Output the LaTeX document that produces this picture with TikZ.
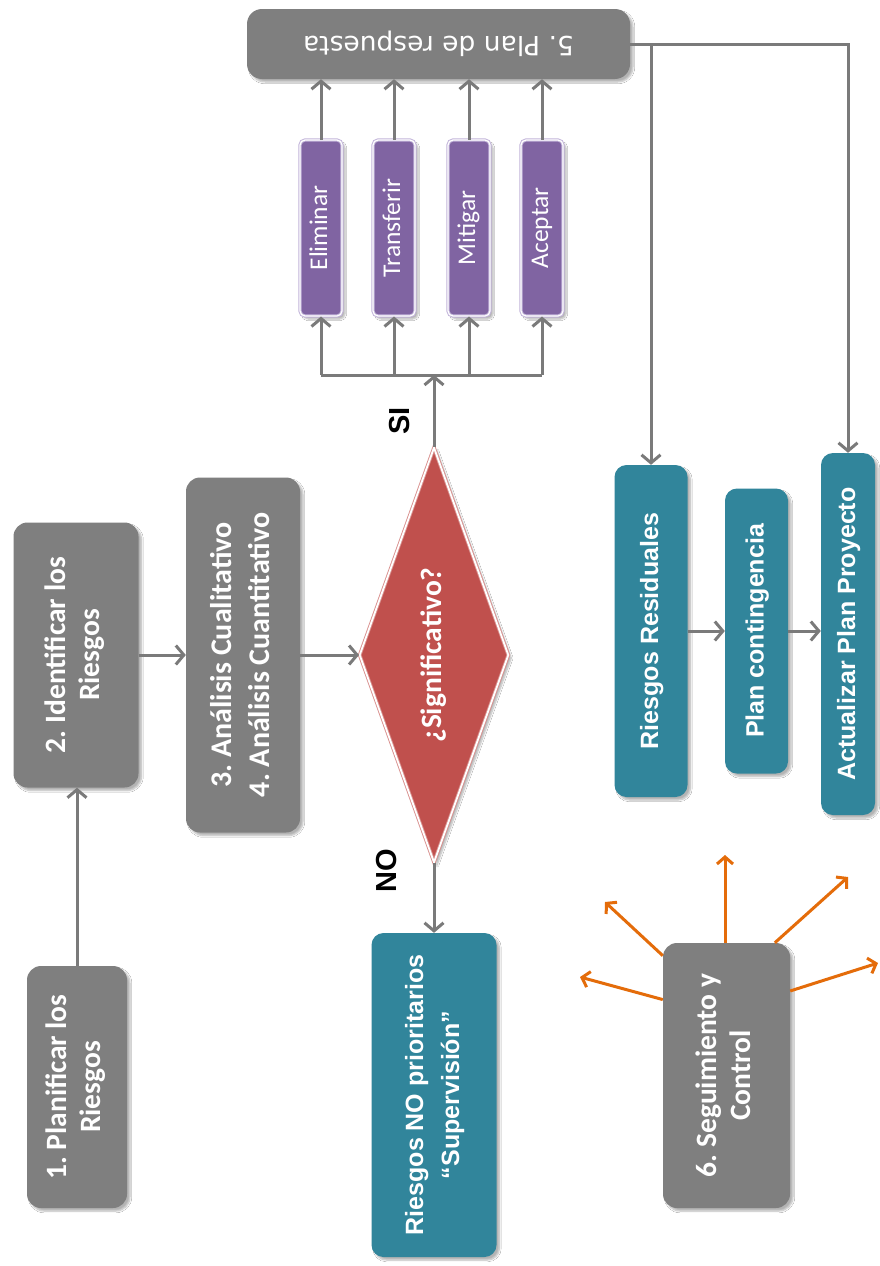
\documentclass[tikz,border=0pt]{standalone}
\usepackage{fontspec}
\usepackage{graphicx}
\usetikzlibrary{shapes.geometric,arrows.meta,shadows.blur,calc}
\newfontfamily\calfont{Carlito}
\newfontfamily\arialfont{Liberation Sans}
\newfontfamily\djfont{DejaVu Sans}
\frenchspacing
\definecolor{cgray}{HTML}{7F7F7F}
\definecolor{cline}{HTML}{7A7A7A}
\definecolor{cteal}{HTML}{31859B}
\definecolor{cpurple}{HTML}{8064A2}
\definecolor{clav}{HTML}{C3B5DA}
\definecolor{cred}{HTML}{C0504D}
\definecolor{cpink}{HTML}{D9908E}
\definecolor{corange}{HTML}{E46C0A}
\newcommand\grayfont{\calfont\bfseries\fontsize{29.5pt}{34pt}\selectfont}
\newcommand\grayfontb{\calfont\bfseries\fontsize{30pt}{38pt}\selectfont}
\newcommand\tealfont{\arialfont\bfseries\fontsize{25pt}{36pt}\selectfont}
\newcommand\purpfont{\calfont\fontsize{25.5pt}{30pt}\selectfont}
\newcommand\planfont{\djfont\fontsize{26.5pt}{32pt}\selectfont}
\newcommand\lblfont{\arialfont\bfseries\fontsize{29pt}{34pt}\selectfont}
\newcommand\rottext[1]{\rotatebox{90}{\begin{tabular}{@{}c@{}}#1\end{tabular}}}
\tikzset{
  softshadow/.style={blur shadow={shadow xshift=3pt, shadow yshift=-3pt, shadow blur steps=6, shadow opacity=30}},
  graybox/.style={rectangle, rounded corners=14pt, fill=cgray, text=white, inner sep=0pt, font=\grayfont, softshadow},
  tealbox/.style={rectangle, rounded corners=12pt, fill=cteal, text=white, inner sep=0pt, font=\tealfont, softshadow},
  purpbox/.style={rectangle, rounded corners=5pt, fill=cpurple, draw=clav, double=white, double distance=1.2pt, line width=1pt, text=white, inner sep=0pt, font=\purpfont, minimum width=42pt, minimum height=176pt, softshadow},
  decision/.style={diamond, aspect=0.36, inner sep=0pt, minimum width=149pt, minimum height=415pt, fill=cred, draw=cpink, double=white, double distance=1.8pt, line width=0.9pt, text=white, font=\grayfont, softshadow},
  lbl/.style={inner sep=0pt, text=black, font=\lblfont},
  arr/.style={draw=cline, line width=3pt, -{Straight Barb[length=8pt,width=19pt]}},
  plainline/.style={draw=cline, line width=3pt},
  oarr/.style={draw=corange, line width=3pt, -{Straight Barb[length=7pt,width=16pt]}}
}
\begin{document}
\begin{tikzpicture}[x=1pt, y=-1pt]
\useasboundingbox (0,0) rectangle (880,1266);
\fill[white] (0,0) rectangle (880,1266);

% left chain
\node[graybox, minimum width=100pt, minimum height=242pt] (p1) at (77,1087) {\rottext{1. Planificar los\\Riesgos}};
\node[graybox, minimum width=125pt, minimum height=265pt] (p2) at (76,655) {\rottext{2. Identificar los\\Riesgos}};
\node[graybox, minimum width=114pt, minimum height=355pt, font=\grayfontb] (p34) at (243,655) {\rottext{3. Análisis Cualitativo\\4. Análisis Cuantitativo}};
\node[decision] (dia) at (434,655) {\rotatebox{90}{¿Significativo?}};
\node[tealbox, minimum width=125pt, minimum height=324pt] (nop) at (434,1095) {\rottext{Riesgos NO prioritarios\\“Supervisión”}};

\node[lbl] (si) at (400,421) {\rotatebox{90}{SI}};
\node[lbl] (no) at (387,871) {\rotatebox{90}{NO}};

% response options
\node[purpbox] (el) at (321,228) {\rottext{Eliminar}};
\node[purpbox] (tr) at (394,228) {\rottext{Transferir}};
\node[purpbox] (mi) at (469,228) {\rottext{Mitigar}};
\node[purpbox] (ac) at (542,228) {\rottext{Aceptar}};

\node[graybox, rounded corners=15pt, minimum width=383pt, minimum height=70pt, font=\planfont] (plan) at (438.5,44) {\rotatebox{180}{5. Plan de respuesta}};

% right chain
\node[tealbox, minimum width=73pt, minimum height=332pt] (rr) at (651,631) {\rottext{Riesgos Residuales}};
\node[tealbox, minimum width=63pt, minimum height=285pt] (pc) at (756.5,631) {\rottext{Plan contingencia}};
\node[tealbox, minimum width=54pt, minimum height=362pt] (app) at (848,634) {\rottext{Actualizar Plan Proyecto}};

\node[graybox, minimum width=127pt, minimum height=265pt] (s6) at (726.5,1075.5) {\rottext{6. Seguimiento y\\Control}};

% connectors
\draw[arr] (p1.north) -- (p1.north |- p2.south);
\draw[arr] (p2.east) -- (p34.west);
\draw[arr] (p34.east) -- (dia.west);
\draw[arr] (dia.south) -- (nop.north);

\coordinate (bus) at (434,375);
\draw[arr] (dia.north) -- (bus);
\draw[plainline] (el.south |- bus) -- (ac.south |- bus);
\foreach \b in {el,tr,mi,ac}{
  \draw[arr] (\b.south |- bus) -- (\b.south);
  \draw[arr] (\b.north) -- (\b.north |- plan.south);
}

\draw[arr] (plan.east) -| (app.north);
\draw[arr] (plan.east -| rr.north) -- (rr.north);
\draw[arr] (rr.east) -- (pc.west);
\draw[arr] (pc.east) -- (pc.east -| app.west);

% monitoring arrows
\coordinate (o1) at (580,977);
\coordinate (o2) at (605,902);
\coordinate (o3) at (725,855);
\coordinate (o4) at (848,877);
\coordinate (o5) at (878,963);
\draw[oarr] (s6.130) -- (o1);
\draw[oarr] (s6.118) -- (o2);
\draw[oarr] (s6.north -| o3) -- (o3);
\draw[oarr] (s6.70) -- (o4);
\draw[oarr] (s6.53) -- (o5);
\end{tikzpicture}
\end{document}
